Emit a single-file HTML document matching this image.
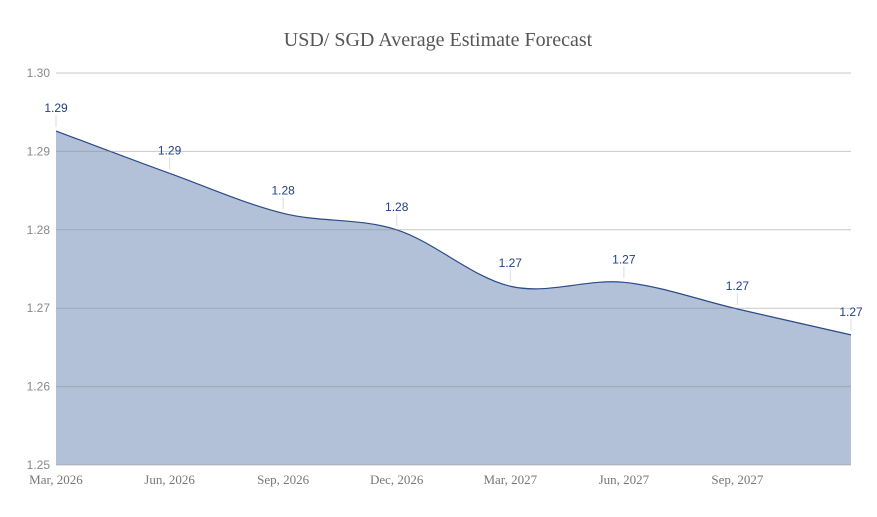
<!DOCTYPE html>
<html><head><meta charset="utf-8"><style>
body{margin:0;background:#fff;}
svg text{font-family:"Liberation Sans",sans-serif;}
</style></head><body>
<svg id="chart" width="877" height="512" xmlns="http://www.w3.org/2000/svg">
<text x="438" y="46" text-anchor="middle" style="font-family:'Liberation Serif',serif;font-size:20px;fill:#555">USD/ SGD Average Estimate Forecast</text>
<g id="area"></g><g id="grid"></g><g id="labels"></g>
</svg>
<script>
const categories=["Mar, 2026","Jun, 2026","Sep, 2026","Dec, 2026","Mar, 2027","Jun, 2027","Sep, 2027",""];
const values=[1.2926,1.2872,1.2821,1.2800,1.2728,1.2733,1.2699,1.2666];
const yTicks=[1.25,1.26,1.27,1.28,1.29,1.30];
const NS="http://www.w3.org/2000/svg";
const L=56,R=851,T=73,B=465,ymin=1.25,ymax=1.30;
const xs=i=>L+(R-L)*i/(values.length-1);
const ys=v=>B-(v-ymin)/(ymax-ymin)*(B-T);
function mk(t,a,p){const e=document.createElementNS(NS,t);for(const k in a)e.setAttribute(k,a[k]);p.appendChild(e);return e;}
const grid=document.getElementById('grid');
yTicks.forEach(v=>{
 const l=mk('line',{x1:L,x2:R,y1:ys(v),y2:ys(v),stroke:'#888','stroke-opacity':0.45,'stroke-width':1},grid);
 
 
 const t=mk('text',{x:L-6,y:ys(v)+4,'text-anchor':'end','font-size':12,fill:'#888'},grid);
 t.textContent=v.toFixed(2);
 
 
});
const pts=values.map((v,i)=>[xs(i),ys(v)]);
let d=`M${pts[0][0]},${pts[0][1]}`;
for(let i=0;i<pts.length-1;i++){
 const p0=pts[Math.max(0,i-1)],p1=pts[i],p2=pts[i+1],p3=pts[Math.min(pts.length-1,i+2)];
 const k=1/6;
 d+=` C${p1[0]+(p2[0]-p0[0])*k},${p1[1]+(p2[1]-p0[1])*k} ${p2[0]-(p3[0]-p1[0])*k},${p2[1]-(p3[1]-p1[1])*k} ${p2[0]},${p2[1]}`;
}
const area=document.getElementById('area');
const a=mk('path',{d:d+` L${R},${B} L${L},${B} Z`,fill:'#b3c1d8'},area);


const ln=mk('path',{d:d,fill:'none',stroke:'#2a4a8a','stroke-width':1.2},area);


const lab=document.getElementById('labels');
values.forEach((v,i)=>{
 const x=xs(i),y=ys(v);
 const tk=mk('line',{x1:x,x2:x,y1:y-16,y2:y-4,stroke:'#ddd','stroke-width':1},lab);
 
 
 const t=mk('text',{x:x,y:y-19,'text-anchor':'middle','font-size':12,fill:'#1f3f8a'},lab);
 t.textContent=v.toFixed(2);
 
 
 if(categories[i]){
  const c=mk('text',{x:x,y:484,'text-anchor':'middle','font-size':13,fill:'#777',style:"font-family:'Liberation Serif',serif"},lab);
  c.textContent=categories[i];
  
  
 }
});
</script>
</body></html>
